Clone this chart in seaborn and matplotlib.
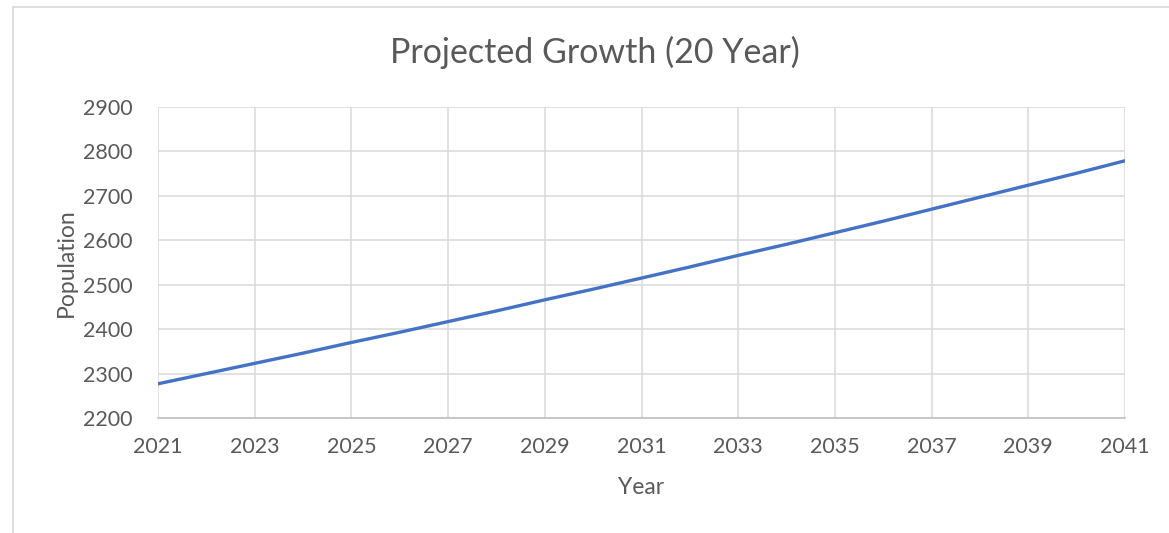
import matplotlib
matplotlib.use("Agg")
import matplotlib.pyplot as plt
import matplotlib.patches as mpatches
import seaborn as sns
import pandas as pd

years = list(range(2021, 2042))
population = [2277, 2300, 2323, 2346, 2370, 2393, 2417, 2441, 2466, 2490,
              2515, 2540, 2566, 2591, 2617, 2643, 2670, 2697, 2724, 2751, 2779]
title = "Projected Growth (20 Year)"
x_label = "Year"
y_label = "Population"
x_ticks = list(range(2021, 2042, 2))
y_ticks = list(range(2200, 3000, 100))

df = pd.DataFrame({"Year": years, "Population": population})

sns.set_theme(style="white")
plt.rcParams['font.family'] = ['Lato', 'DejaVu Sans']
text_color = "#595959"

fig = plt.figure(figsize=(11.69, 5.33), dpi=100)
ax = fig.add_axes([158/1169, 1-418/533, (1125-158)/1169, (418-107)/533])

sns.lineplot(data=df, x="Year", y="Population", ax=ax, color="#4472C4",
             linewidth=2.4, solid_capstyle="round")

ax.set_xlim(2021, 2041)
ax.set_ylim(2200, 2900)
ax.set_xticks(x_ticks)
ax.set_yticks(y_ticks)
ax.set_xticklabels([str(t) for t in x_ticks])
ax.set_yticklabels([str(t) for t in y_ticks])
ax.grid(True, color="#d9d9d9", linewidth=1.1)
ax.set_axisbelow(True)
for s in ["left", "right", "top"]:
    ax.spines[s].set_visible(False)
ax.spines["bottom"].set_color("#bfbfbf")
ax.spines["bottom"].set_linewidth(1.2)
ax.tick_params(axis="both", length=0, labelsize=15.5, colors=text_color)
ax.tick_params(axis="x", pad=14)
ax.tick_params(axis="y", pad=18)

ax.set_xlabel(x_label, fontsize=16.5, color=text_color, labelpad=14)
ax.set_ylabel(y_label, fontsize=16.5, color=text_color, labelpad=5)
fig.text(595/1169, 1-52/533, title, ha="center", va="center",
         fontsize=24.5, color=text_color)

border = mpatches.Rectangle((13/1169, -0.2), 1.5, 0.2 + 1 - 7/533,
                            transform=fig.transFigure, fill=False,
                            edgecolor="#d9d9d9", linewidth=1.2)
fig.patches.append(border)

fig.savefig("out.png", dpi=100)
